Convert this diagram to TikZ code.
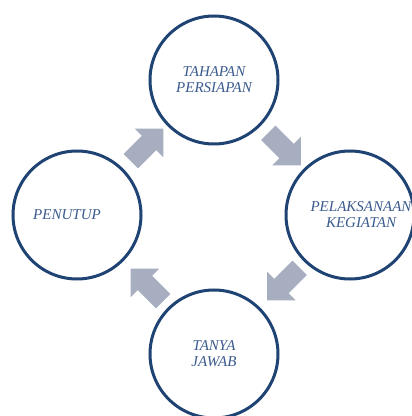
\documentclass[tikz,border=0pt]{standalone}
\usepackage{fontspec}
\setmainfont{Liberation Serif}
\usetikzlibrary{calc,shapes.arrows,positioning,backgrounds}
\definecolor{ringblue}{HTML}{1F4373}
\definecolor{textblue}{HTML}{3B5B8E}
\definecolor{arrowgray}{HTML}{A6AEBF}

\begin{document}
\begin{tikzpicture}[%
    x=1pt,y=1pt,%
    show background rectangle,%
    background rectangle/.style={fill=white}%
  ]
  %
  % Definitions
  %
  \tikzset{
    tahap/.style={circle, draw=ringblue, line width=3pt, minimum size=128pt, inner sep=0pt},
    teks/.style={text=textblue, align=center, font=\fontsize{15}{16}\selectfont\itshape},
    panah/.style={single arrow, fill=arrowgray, draw=none, minimum height=46pt,
      single arrow head extend=10pt, inner sep=10pt, single arrow tip angle=90},
  }
  \pgfmathsetmacro{\xl}{77};%
  \pgfmathsetmacro{\xm}{214};%
  \pgfmathsetmacro{\xr}{350};%
  \pgfmathsetmacro{\yt}{336};%
  \pgfmathsetmacro{\ym}{201};%
  \pgfmathsetmacro{\yb}{62};%

  \useasboundingbox (0,0) rectangle (412,416);

  %
  % Drawing
  %
  % Circles
  \node[tahap] (T) at (\xm,\yt) {};
  \node[tahap] (R) at (\xr,\ym) {};
  \node[tahap] (B) at (\xm,\yb) {};
  \node[tahap] (L) at (\xl,\ym) {};

  % Texts
  \node[teks] (Tt) at (T) {TAHAPAN\\PERSIAPAN};
  \node[teks, xshift=11pt] (Rt) at (R) {PELAKSANAAN\\KEGIATAN};
  \node[teks] (Bt) at (B) {TANYA\\JAWAB};
  \node[teks, xshift=-10pt] (Lt) at (L) {PENUTUP};

  % Arrows
  \node[panah, rotate=45] (LT) at ($(L)!0.5!(T)+(-2,-1)$) {};
  \node[panah, rotate=-45] (TR) at ($(T)!0.5!(R)+(-1,2)$) {};
  \node[panah, rotate=-135] (RB) at ($(R)!0.5!(B)+(5,4)$) {};
  \node[panah, rotate=135] (BL) at ($(B)!0.5!(L)+(5,-4)$) {};

\end{tikzpicture}
\end{document}
